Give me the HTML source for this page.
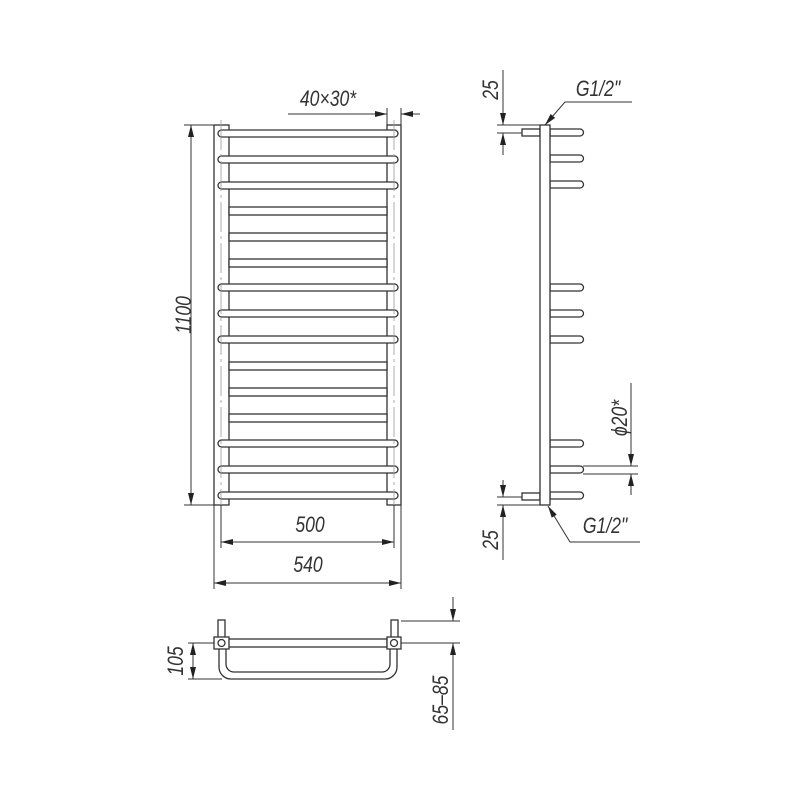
<!DOCTYPE html>
<html><head><meta charset="utf-8"><style>
html,body{margin:0;padding:0;background:#fff}
svg{display:block}
text{font-family:"Liberation Sans",sans-serif;font-style:italic;fill:#333;font-size:22px}
</style></head><body>
<svg width="800" height="800" viewBox="0 0 800 800" xmlns="http://www.w3.org/2000/svg">
<defs>
<marker id="a" viewBox="0 0 12 6" refX="12" refY="3" markerWidth="12" markerHeight="6" orient="auto-start-reverse" markerUnits="userSpaceOnUse"><path d="M0,0 L12,3 L0,6 z" fill="#222"/></marker>
</defs>
<g stroke="#333" stroke-width="1.3" fill="#fff">
<rect x="214" y="125" width="15" height="380"/>
<rect x="387" y="125" width="14" height="380"/>
<rect x="218" y="130" width="180" height="7" rx="3.5"/>
<rect x="218" y="156" width="180" height="7" rx="3.5"/>
<rect x="218" y="182" width="180" height="7" rx="3.5"/>
<rect x="229" y="207" width="158" height="8"/>
<rect x="229" y="233" width="158" height="8"/>
<rect x="229" y="259" width="158" height="8"/>
<rect x="218" y="284" width="180" height="7" rx="3.5"/>
<rect x="218" y="310" width="180" height="7" rx="3.5"/>
<rect x="218" y="336" width="180" height="7" rx="3.5"/>
<rect x="229" y="362" width="158" height="8"/>
<rect x="229" y="388" width="158" height="8"/>
<rect x="229" y="414" width="158" height="8"/>
<rect x="218" y="440" width="180" height="7" rx="3.5"/>
<rect x="218" y="466" width="180" height="7" rx="3.5"/>
<rect x="218" y="492" width="180" height="7" rx="3.5"/>
</g>
<g stroke="#999" stroke-width="0.8" stroke-dasharray="30,4,3,4" fill="none">
<line x1="221" y1="120" x2="221" y2="510"/><line x1="394" y1="120" x2="394" y2="510"/>
</g>
<g stroke="#333" stroke-width="1" fill="none">
<line x1="184" y1="125" x2="214" y2="125"/><line x1="184" y1="505" x2="214" y2="505"/>
<line x1="191" y1="125" x2="191" y2="505" marker-start="url(#a)" marker-end="url(#a)"/>
<line x1="221" y1="505" x2="221" y2="548"/><line x1="394" y1="505" x2="394" y2="548"/>
<line x1="221" y1="542" x2="394" y2="542" marker-start="url(#a)" marker-end="url(#a)"/>
<line x1="214" y1="505" x2="214" y2="589"/><line x1="401" y1="505" x2="401" y2="589"/>
<line x1="214" y1="583" x2="401" y2="583" marker-start="url(#a)" marker-end="url(#a)"/>
<line x1="387" y1="108" x2="387" y2="125"/><line x1="401" y1="108" x2="401" y2="125"/>
<line x1="288" y1="114" x2="387" y2="114" marker-end="url(#a)"/>
<line x1="420" y1="114" x2="401" y2="114" marker-end="url(#a)"/>
</g>
<text transform="translate(183 315) rotate(-90) scale(0.8 1)" text-anchor="middle" dy="8">1100</text>
<text transform="translate(310 532) scale(0.8 1)" text-anchor="middle">500</text>
<text transform="translate(308 572) scale(0.8 1)" text-anchor="middle">540</text>
<text transform="translate(328 106) scale(0.8 1)" text-anchor="middle">40×30*</text>
<g stroke="#333" stroke-width="1.3" fill="#fff">
<rect x="522" y="129" width="18" height="7"/>
<rect x="522" y="493" width="18" height="7"/>
<path d="M550,129 H580 A3.5,3.5 0 0 1 580,136 H550 Z"/>
<path d="M550,155 H580 A3.5,3.5 0 0 1 580,162 H550 Z"/>
<path d="M550,181 H580 A3.5,3.5 0 0 1 580,188 H550 Z"/>
<path d="M550,284 H580 A3.5,3.5 0 0 1 580,291 H550 Z"/>
<path d="M550,310 H580 A3.5,3.5 0 0 1 580,317 H550 Z"/>
<path d="M550,336 H580 A3.5,3.5 0 0 1 580,343 H550 Z"/>
<path d="M550,440 H580 A3.5,3.5 0 0 1 580,447 H550 Z"/>
<path d="M550,466 H580 A3.5,3.5 0 0 1 580,473 H550 Z"/>
<path d="M550,492 H580 A3.5,3.5 0 0 1 580,499 H550 Z"/>
<rect x="540" y="125" width="10" height="380"/>
</g>
<g stroke="#333" stroke-width="1" fill="none">
<line x1="497" y1="125" x2="540" y2="125"/><line x1="497" y1="133" x2="522" y2="133"/>
<line x1="503" y1="70" x2="503" y2="125" marker-end="url(#a)"/>
<line x1="503" y1="155" x2="503" y2="133" marker-end="url(#a)"/>
<line x1="497" y1="497" x2="522" y2="497"/><line x1="497" y1="505" x2="540" y2="505"/>
<line x1="503" y1="480" x2="503" y2="497" marker-end="url(#a)"/>
<line x1="503" y1="560" x2="503" y2="505" marker-end="url(#a)"/>
<polyline points="632,102 565,102 545,125" marker-end="url(#a)"/>
<polyline points="640,542 570,542 548,506" marker-end="url(#a)"/>
<line x1="583" y1="466" x2="638" y2="466"/><line x1="583" y1="474" x2="638" y2="474"/>
<line x1="631" y1="383" x2="631" y2="466" marker-end="url(#a)"/>
<line x1="631" y1="495" x2="631" y2="474" marker-end="url(#a)"/>
</g>
<text transform="translate(490 90) rotate(-90) scale(0.8 1)" text-anchor="middle" dy="8">25</text>
<text transform="translate(490 540) rotate(-90) scale(0.8 1)" text-anchor="middle" dy="8">25</text>
<text transform="translate(598 96) scale(0.8 1)" text-anchor="middle">G1/2"</text>
<text transform="translate(605 533) scale(0.8 1)" text-anchor="middle">G1/2"</text>
<text transform="translate(619 418) rotate(-90) scale(0.8 1)" text-anchor="middle" dy="8">ϕ20*</text>
<g stroke="#333" stroke-width="1.3" fill="none">
<rect x="218" y="620" width="7" height="18" fill="#fff"/>
<rect x="391" y="620" width="7" height="18" fill="#fff"/>
<path d="M219,648 V667 A12,12 0 0 0 231,679 H385 A12,12 0 0 0 397,667 V648"/>
<path d="M226,648 V664 A8,8 0 0 0 234,672 H382 A8,8 0 0 0 390,664 V648"/>
<rect x="228" y="639" width="159" height="8" fill="#fff"/>
<rect x="214" y="637" width="15" height="12" fill="#fff"/>
<rect x="387" y="637" width="14" height="12" fill="#fff"/>
<circle cx="221.5" cy="643" r="3.5"/><circle cx="394" cy="643" r="3.5"/>
</g>
<g stroke="#333" stroke-width="1" fill="none">
<line x1="188" y1="643" x2="214" y2="643"/><line x1="188" y1="679" x2="222" y2="679"/>
<line x1="193" y1="643" x2="193" y2="679" marker-start="url(#a)" marker-end="url(#a)"/>
<line x1="401" y1="621" x2="460" y2="621"/><line x1="401" y1="643" x2="460" y2="643"/>
<line x1="453" y1="597" x2="453" y2="621" marker-end="url(#a)"/>
<line x1="453" y1="730" x2="453" y2="643" marker-end="url(#a)"/>
</g>
<text transform="translate(175 661) rotate(-90) scale(0.8 1)" text-anchor="middle" dy="8">105</text>
<text transform="translate(440 700) rotate(-90) scale(0.8 1)" text-anchor="middle" dy="8">65–85</text>
</svg>
</body></html>
